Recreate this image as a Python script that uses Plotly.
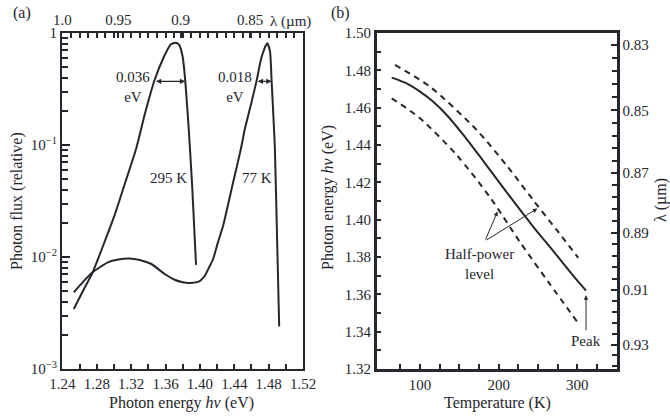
import numpy as np
import plotly.graph_objects as go

# ---------------- Panel (a): emission spectra ----------------
E_295 = [1.2532, 1.2640, 1.2752, 1.2880, 1.3005, 1.3130, 1.3257, 1.3360, 1.3470,
         1.3580, 1.3660, 1.3720, 1.3760, 1.3800, 1.3830, 1.3870, 1.3910, 1.3955]
F_295 = [3.43e-3, 5.0e-3, 7.3e-3, 0.013, 0.0234, 0.046, 0.092, 0.19, 0.375,
         0.61, 0.79, 0.82, 0.78, 0.61, 0.37, 0.139, 0.043, 8.5e-3]

E_77 = [1.2532, 1.2640, 1.2752, 1.2929, 1.3050, 1.3180, 1.3300, 1.3435, 1.3590,
        1.3700, 1.3800, 1.3882, 1.3998, 1.4057, 1.4115, 1.4154, 1.4210, 1.4270,
        1.4387, 1.4477, 1.4523, 1.4600, 1.4660, 1.4718, 1.4783, 1.4815, 1.4835,
        1.4856, 1.4873, 1.4900, 1.4923]
F_77 = [4.84e-3, 6.0e-3, 7.3e-3, 8.97e-3, 9.5e-3, 9.7e-3, 9.4e-3, 8.66e-3, 7.05e-3,
        6.3e-3, 5.95e-3, 5.87e-3, 6.1e-3, 6.8e-3, 8.3e-3, 9.6e-3, 0.0135, 0.019,
        0.0465, 0.092, 0.139, 0.24, 0.375, 0.61, 0.81, 0.69, 0.37,
        0.177, 0.092, 0.013, 2.4e-3]

energy_ticks_a = [1.24, 1.28, 1.32, 1.36, 1.40, 1.44, 1.48, 1.52]
flux_ticks = [1e-3, 1e-2, 1e-1, 1]
flux_tick_text = ["10<sup>−3</sup>", "10<sup>−2</sup>", "10<sup>−1</sup>", "1"]
lam_top = [1.0, 0.95, 0.9, 0.85]
lam_top_text = ["1.0", "0.95", "0.9", "0.85"]

fwhm_left = [1.347, 1.4655]
fwhm_width = [0.036, 0.018]
fwhm_level = [0.37, 0.37]
fwhm_text = ["0.036<br>eV", "0.018<br>eV"]
curve_names = ["295 K", "77 K"]

# ---------------- Panel (b): peak / half-power vs temperature ----------------
T_peak = [64.1, 83.1, 100.0, 116.9, 134.0, 155.1, 180.5, 214.4, 244.0, 269.4, 299.2, 311.0]
E_peak = [1.4761, 1.4730, 1.4686, 1.4632, 1.4561, 1.4454, 1.4314, 1.4123, 1.3962,
          1.3832, 1.3677, 1.3620]
T_hi = [68.3, 112.7, 172.1, 210.2, 244.0, 273.7, 301.2]
E_hi = [1.4829, 1.4712, 1.4480, 1.4290, 1.4104, 1.3945, 1.3795]
T_lo = [64.1, 100.0, 146.7, 189.0, 227.1, 264.0, 301.2]
E_lo = [1.4650, 1.4543, 1.4346, 1.4120, 1.3880, 1.3661, 1.3445]

temp_ticks = [100, 200, 300]
energy_ticks_b = [1.32, 1.34, 1.36, 1.38, 1.40, 1.42, 1.44, 1.46, 1.48, 1.50]
lam_right = [0.83, 0.85, 0.87, 0.89, 0.91, 0.93]

HC = 1.2398  # eV * um

INK = "#26262e"
FONT = "Liberation Serif"
W, H = 670, 417

def px_x(p):
    return p / W

def px_y(p):
    return 1 - p / H

fig = go.Figure()

# panel (a) curves
fig.add_trace(go.Scatter(x=E_295, y=F_295, mode="lines", xaxis="x", yaxis="y",
                         line=dict(color=INK, width=2, shape="spline", smoothing=0.6),
                         showlegend=False, hoverinfo="skip"))
fig.add_trace(go.Scatter(x=E_77, y=F_77, mode="lines", xaxis="x", yaxis="y",
                         line=dict(color=INK, width=2, shape="spline", smoothing=0.6),
                         showlegend=False, hoverinfo="skip"))
# invisible anchor trace for top wavelength axis
fig.add_trace(go.Scatter(x=[E_295[0]], y=[F_295[0]], mode="markers", xaxis="x2", yaxis="y",
                         marker=dict(opacity=0), showlegend=False, hoverinfo="skip"))

# panel (b) curves
fig.add_trace(go.Scatter(x=T_peak, y=E_peak, mode="lines", xaxis="x3", yaxis="y3",
                         line=dict(color=INK, width=2, shape="spline", smoothing=0.8),
                         showlegend=False, hoverinfo="skip"))
for Ts, Es in [(T_hi, E_hi), (T_lo, E_lo)]:
    fig.add_trace(go.Scatter(x=Ts, y=Es, mode="lines", xaxis="x3", yaxis="y3",
                             line=dict(color=INK, width=2, dash="6px,5px",
                                       shape="spline", smoothing=0.8),
                             showlegend=False, hoverinfo="skip"))
fig.add_trace(go.Scatter(x=[T_peak[0]], y=[E_peak[0]], mode="markers", xaxis="x3", yaxis="y4",
                         marker=dict(opacity=0), showlegend=False, hoverinfo="skip"))

tickfont = dict(family=FONT, size=15, color=INK)
dom_y = [px_y(369), px_y(33)]

minor_flux = [k * 10.0 ** d for d in (-3, -2, -1) for k in range(2, 10)]
minor_top = [round(v, 3) for v in np.arange(1.25, 1.515, 0.01)]
minor_lam = [l for l in np.arange(0.822, 0.9405, 0.004)
             if min(abs(l - m) for m in lam_right) > 1e-4]
minor_lam_E = [HC / l for l in minor_lam if 1.32 <= HC / l <= 1.50]

xr_a = [1.2395, 1.52]
common = dict(showgrid=False, zeroline=False, automargin=False, tickfont=tickfont,
              tickcolor=INK, tickwidth=1.5, ticks="inside")
minor_style = dict(ticks="inside", ticklen=5, tickwidth=1.5, tickcolor=INK)

fig.update_layout(
    width=W, height=H, margin=dict(l=0, r=0, t=0, b=0, autoexpand=False),
    paper_bgcolor="white", plot_bgcolor="white",
    font=dict(family=FONT, size=15, color=INK),
    xaxis=dict(domain=[px_x(62), px_x(303)], anchor="y", range=xr_a,
               tickvals=energy_ticks_a, ticktext=[f"{v:.2f}" for v in energy_ticks_a],
               ticklen=5,
               minor=dict(tickvals=[round(v + 0.02, 2) for v in energy_ticks_a[:-1]],
                          **minor_style),
               showline=True, linewidth=2, linecolor=INK, **common),
    xaxis2=dict(overlaying="x", side="top", anchor="y", range=xr_a,
                tickvals=[HC / l for l in lam_top], ticktext=lam_top_text,
                ticklen=5, minor=dict(tickvals=minor_top, **minor_style),
                showline=True, linewidth=2, linecolor=INK, **common),
    yaxis=dict(domain=dom_y, anchor="x", type="log", range=[-3, 0],
               tickvals=flux_ticks, ticktext=flux_tick_text, ticklen=8,
               minor=dict(tickvals=minor_flux, ticks="inside", ticklen=6,
                          tickwidth=1.5, tickcolor=INK),
               showline=True, linewidth=2, linecolor=INK, mirror=True, **common),
    xaxis3=dict(domain=[px_x(376.7), px_x(616.7)], anchor="y3", range=[45, 350],
                tickvals=temp_ticks, ticklen=5,
                minor=dict(tickvals=[75, 125, 150, 175, 225, 250, 275, 325],
                           **minor_style),
                showline=True, linewidth=2.5, linecolor=INK, mirror=True, **common),
    yaxis3=dict(domain=dom_y, anchor="x3", range=[1.32, 1.50],
                tickvals=energy_ticks_b, tickformat=".2f", ticklen=5,
                minor=dict(tickvals=[round(v + 0.01, 2) for v in energy_ticks_b[:-1]],
                           **minor_style),
                showline=True, linewidth=2.5, linecolor=INK, **common),
    yaxis4=dict(overlaying="y3", side="right", anchor="x3", range=[1.32, 1.50],
                tickvals=[HC / l for l in lam_right],
                ticktext=[f"{l:.2f}" for l in lam_right], ticklen=6,
                minor=dict(tickvals=minor_lam_E, **minor_style),
                showline=True, linewidth=2.5, linecolor=INK, **common),
)

ann = []
title_font = dict(family=FONT, size=16, color=INK)


def paper_text(text, x, y, font, angle=0, xanchor="center"):
    return dict(text=text, x=px_x(x), y=px_y(y), xref="paper", yref="paper",
                showarrow=False, font=font, textangle=angle,
                xanchor=xanchor, yanchor="middle")


# panel letters
ann.append(paper_text("(a)", 22, 13, title_font))
ann.append(paper_text("(b)", 340, 13, title_font))
# axis titles
ann.append(paper_text("Photon energy <i>hν</i> (eV)", 182, 403, title_font))
ann.append(paper_text("Photon flux (relative)", 17, 201, title_font, angle=-90))
ann.append(paper_text("λ (µm)", 268, 21, tickfont, xanchor="left"))
ann.append(paper_text("Temperature (K)", 497, 403, title_font))
ann.append(paper_text("Photon energy <i>hν</i> (eV)", 328, 198, title_font, angle=-90))
ann.append(paper_text("λ (µm)", 661, 200, title_font, angle=-90))

# FWHM double arrows and labels
for xl, w, lvl, txt in zip(fwhm_left, fwhm_width, fwhm_level, fwhm_text):
    ly = np.log10(lvl)
    ann.append(dict(x=xl + w, y=ly, ax=xl, ay=ly, xref="x", yref="y",
                    axref="x", ayref="y", text="", showarrow=True,
                    arrowside="end+start", arrowhead=2, startarrowhead=2,
                    arrowsize=0.9, startarrowsize=0.9, arrowwidth=1.2,
                    arrowcolor=INK, standoff=0, startstandoff=0))
    ann.append(dict(x=xl, y=ly, xref="x", yref="y", text=txt, showarrow=False,
                    xanchor="right", yanchor="middle", xshift=-2, yshift=-6,
                    font=tickfont))

# temperature labels of the spectra
label_pos = [(1.3632, 0.0507), (1.4666, 0.0507)]
for name, (lx, lyv) in zip(curve_names, label_pos):
    ann.append(dict(x=lx, y=np.log10(lyv), xref="x", yref="y", text=name,
                    showarrow=False, font=tickfont, xanchor="center", yanchor="middle"))

# Half-power arrows (heads on the dashed curves)
tail = (182.6, 1.3886)
head_lo_T = 199.5
head_hi_T = 251.3
for Th, Ts, Es in [(head_lo_T, T_lo, E_lo), (head_hi_T, T_hi, E_hi)]:
    Eh = float(np.interp(Th, Ts, Es))
    ann.append(dict(x=Th, y=Eh, ax=tail[0], ay=tail[1], xref="x3", yref="y3",
                    axref="x3", ayref="y3", text="", showarrow=True, arrowhead=2,
                    arrowsize=0.9, arrowwidth=1, arrowcolor=INK, standoff=2))
ann.append(dict(x=175.6, y=1.3763, xref="x3", yref="y3", text="Half-power<br>level",
                showarrow=False, font=tickfont, xanchor="center", yanchor="middle"))
# Peak arrow
ann.append(dict(x=T_peak[-1], y=E_peak[-1] - 0.0025, ax=T_peak[-1], ay=1.3400,
                xref="x3", yref="y3", axref="x3", ayref="y3", text="",
                showarrow=True, arrowhead=2, arrowsize=0.9, arrowwidth=1,
                arrowcolor=INK, standoff=0))
ann.append(dict(x=T_peak[-1], y=1.3350, xref="x3", yref="y3", text="Peak",
                showarrow=False, font=tickfont, xanchor="center", yanchor="middle"))

fig.update_layout(annotations=ann)
fig.write_html("out.html")
